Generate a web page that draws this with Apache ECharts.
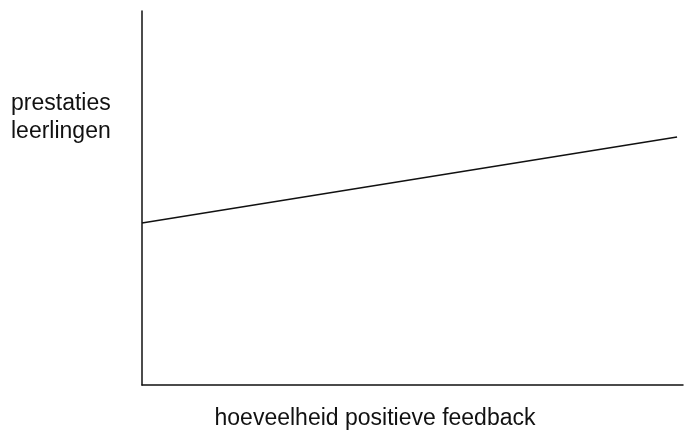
<!DOCTYPE html>
<html>
<head>
<meta charset="utf-8">
<script src="https://cdn.jsdelivr.net/npm/echarts@6/dist/echarts.min.js"></script>
<style>
  html, body { margin: 0; padding: 0; background: #fff; }
  #chart { width: 684px; height: 432px; }
</style>
</head>
<body>
<div id="chart"></div>
<script>
// x: amount of positive feedback, y: pupil performance (arbitrary units)
const feedback = [0, 98.9];
const performance = [43.3, 66.3];
const xTitle = 'hoeveelheid positieve feedback';
const yTitle = ['prestaties', 'leerlingen'];

const chart = echarts.init(document.getElementById('chart'));

const font = { fontFamily: 'Liberation Sans', fontSize: 23, fill: '#111' };

chart.setOption({
  animation: false,
  grid: { left: 142, right: 1, top: 11, bottom: 47, outerBoundsMode: 'none' },
  xAxis: {
    type: 'value',
    min: 0,
    max: 100,
    axisLine: { lineStyle: { color: '#111', width: 1.5 } },
    axisTick: { show: false },
    axisLabel: { show: false },
    splitLine: { show: false }
  },
  yAxis: {
    type: 'value',
    min: 0,
    max: 100,
    axisLine: { show: true, lineStyle: { color: '#111', width: 1.5 } },
    axisTick: { show: false },
    axisLabel: { show: false },
    splitLine: { show: false }
  },
  graphic: [
    {
      type: 'text',
      x: 11,
      y: 90,
      style: Object.assign({ text: yTitle.join('\n'), lineHeight: 28, verticalAlign: 'top' }, font)
    },
    {
      type: 'text',
      x: 375,
      y: 419,
      style: Object.assign({ text: xTitle, align: 'center', verticalAlign: 'middle' }, font)
    }
  ],
  series: [
    {
      type: 'line',
      data: feedback.map((x, i) => [x, performance[i]]),
      showSymbol: false,
      lineStyle: { color: '#111', width: 1.5 }
    }
  ]
});
</script>
</body>
</html>
